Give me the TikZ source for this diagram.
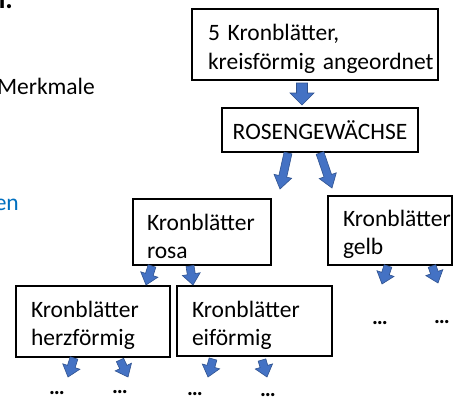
\documentclass[tikz,border=0pt]{standalone}
\usepackage{fontspec}
\setmainfont{Carlito}
\usetikzlibrary{calc}
\definecolor{arrfill}{HTML}{4472C4}
\definecolor{arrline}{HTML}{2F528F}
\definecolor{linkblue}{HTML}{0070C0}
% block arrow: start, tip, shaft width, head width, head length
\newcommand\blockarrow[5]{%
  \path[fill=arrfill, draw=arrline, line width=0.6pt, line join=miter]
    let \p1=(#1), \p2=(#2), \n1={atan2(\y2-\y1,\x2-\x1)} in
    ($(\p1)+(\n1-90:#3/2)$)
    -- ($(\p2)+(\n1+180:#5)+(\n1-90:#3/2)$)
    -- ($(\p2)+(\n1+180:#5)+(\n1-90:#4/2)$)
    -- (\p2)
    -- ($(\p2)+(\n1+180:#5)+(\n1+90:#4/2)$)
    -- ($(\p2)+(\n1+180:#5)+(\n1+90:#3/2)$)
    -- ($(\p1)+(\n1+90:#3/2)$) -- cycle;}
\newcommand\topstrut{\rule{0pt}{25pt}}
\tikzset{
  box/.style={draw=black, line width=1.2pt, rectangle, anchor=north west,
    outer sep=0pt, inner ysep=0pt, align=left,
    font=\fontsize{23.5}{28}\selectfont},
  dots/.style={anchor=base, inner sep=0pt, font=\bfseries\fontsize{22}{27}\selectfont},
  side/.style={anchor=base east, inner sep=0pt, font=\fontsize{23.5}{28}\selectfont}
}
\begin{document}
\begin{tikzpicture}[x=1pt,y=1pt]
\fill[white] (0,0) rectangle (458,-400);
\useasboundingbox (0,0) rectangle (458,-400);

% left side fragments
\node[side, font=\bfseries\fontsize{28}{30}\selectfont] (hd) at (13,-8) {n.};
\node[side] (mk) at (95,-94) {Merkmale};
\node[side, text=linkblue] (en) at (19,-210) {en};

% boxes
\node[box, minimum width=246pt, minimum height=71pt, inner xsep=16pt, text width=214pt,
      font=\fontsize{23.5}{29}\selectfont] (b1) at (192,-9)
      {\topstrut 5 Kronblätter,\\\mbox{kreisförmig angeordnet}};
\node[box, align=center, minimum width=196pt, minimum height=44pt] (b2) at (222,-108)
      {ROSENGEWÄCHSE};
\node[box, minimum width=138pt, minimum height=66pt, inner xsep=14pt, text width=110pt] (rosa) at (133,-199)
      {\topstrut Kronblätter\\rosa};
\node[box, minimum width=124pt, minimum height=69pt, inner xsep=15pt, text width=94pt] (gelb) at (328,-196)
      {\topstrut Kronblätter\\gelb};
\node[box, minimum width=154pt, minimum height=71pt, inner xsep=15pt, text width=124pt] (herz) at (16,-286)
      {\topstrut Kronblätter\\herzförmig};
\node[box, minimum width=155pt, minimum height=70pt, inner xsep=15pt, text width=125pt] (eif) at (177,-286)
      {\topstrut Kronblätter\\eiförmig};

% dots
\node[dots] (d1) at (57,-394) {…};
\node[dots] (d2) at (120,-393) {…};
\node[dots] (d3) at (195,-395) {…};
\node[dots] (d4) at (268,-396) {…};
\node[dots] (d5) at (380,-324) {…};
\node[dots] (d6) at (442,-323) {…};

% arrow end points
\coordinate (s1) at (302,-83);  \coordinate (t1) at (302,-105);
\coordinate (s2) at (288,-153); \coordinate (t2) at (280,-189);
\coordinate (s3) at (320,-153); \coordinate (t3) at (332,-188);
\coordinate (s4) at (152,-266); \coordinate (t4) at (146,-285);
\coordinate (s5) at (190,-266); \coordinate (t5) at (193,-285);
\coordinate (s6) at (388,-266); \coordinate (t6) at (382,-284);
\coordinate (s7) at (432,-266); \coordinate (t7) at (438,-283);
\coordinate (s8) at (74,-358);  \coordinate (t8) at (68,-377);
\coordinate (s9) at (120,-360); \coordinate (t9) at (128,-377);
\coordinate (s10) at (213,-359); \coordinate (t10) at (208,-377);
\coordinate (s11) at (262,-360); \coordinate (t11) at (267,-377);

\blockarrow{s1}{t1}{11}{24}{12}
\blockarrow{s2}{t2}{8}{18}{13}
\blockarrow{s3}{t3}{8}{18}{13}
\blockarrow{s4}{t4}{8}{18}{11}
\blockarrow{s5}{t5}{8}{18}{11}
\blockarrow{s6}{t6}{8}{18}{11}
\blockarrow{s7}{t7}{8}{18}{11}
\blockarrow{s8}{t8}{8}{18}{11}
\blockarrow{s9}{t9}{8}{18}{11}
\blockarrow{s10}{t10}{8}{18}{11}
\blockarrow{s11}{t11}{8}{18}{11}
\end{tikzpicture}
\end{document}
